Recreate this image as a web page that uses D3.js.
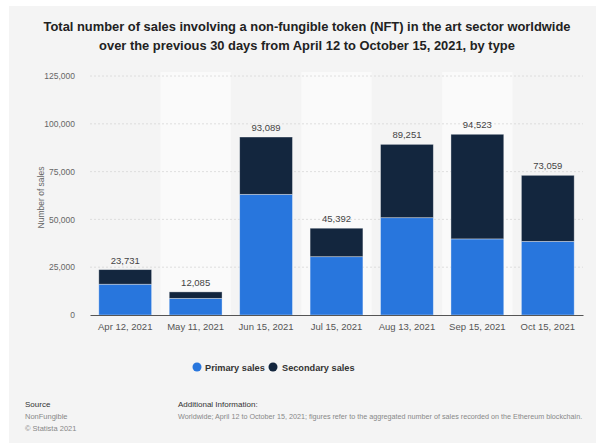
<!DOCTYPE html>
<html>
<head>
<meta charset="utf-8">
<script src="https://cdn.jsdelivr.net/npm/d3@7"></script>
<style>
  html, body { margin: 0; padding: 0; background: #ffffff; }
  svg { display: block; font-family: "Liberation Sans", Arial, sans-serif; }
</style>
</head>
<body>
<svg id="chart" width="596" height="446"></svg>
<script>
// NFT art sector sales over trailing 30 days, split by sale type
const categories = ["Apr 12, 2021", "May 11, 2021", "Jun 15, 2021", "Jul 15, 2021", "Aug 13, 2021", "Sep 15, 2021", "Oct 15, 2021"];
const totals = [23731, 12085, 93089, 45392, 89251, 94523, 73059];
const primarySales = [16100, 8700, 63100, 30500, 50900, 39800, 38500];
const secondarySales = totals.map((t, i) => t - primarySales[i]);
const yTicks = [0, 25000, 50000, 75000, 100000, 125000];
const seriesNames = ["Primary sales", "Secondary sales"];
const seriesColors = ["#2876dd", "#13263e"];

const svg = d3.select("#chart");

// card background
svg.append("rect").attr("x", 9).attr("y", 6).attr("width", 587).attr("height", 437).attr("fill", "#f4f4f4");

// title
const title = svg.append("text").attr("text-anchor", "middle")
  .attr("font-weight", "bold").attr("font-size", 12.9).attr("fill", "#222");
title.append("tspan").attr("x", 307).attr("y", 31).text("Total number of sales involving a non-fungible token (NFT) in the art sector worldwide");
title.append("tspan").attr("x", 307).attr("y", 50).text("over the previous 30 days from April 12 to October 15, 2021, by type");

const plot = { left: 90, right: 583, top: 76, bottom: 315 };

const x = d3.scaleBand().domain(categories).range([plot.left, plot.right]).paddingInner(0.25).paddingOuter(0.125);
const xBand = d3.scaleBand().domain(categories).range([plot.left, plot.right]).padding(0);
const y = d3.scaleLinear().domain([0, 125000]).range([plot.bottom, plot.top]);

// alternating column shading
svg.append("g").selectAll("rect").data(categories.filter((d, i) => i % 2 === 1)).join("rect")
  .attr("x", d => xBand(d)).attr("width", xBand.bandwidth())
  .attr("y", plot.top - 4).attr("height", plot.bottom - plot.top + 4)
  .attr("fill", "#fafafa");

// gridlines
svg.append("g").selectAll("line").data(yTicks.filter(t => t > 0)).join("line")
  .attr("x1", plot.left).attr("x2", plot.right)
  .attr("y1", d => y(d)).attr("y2", d => y(d))
  .attr("stroke", "#d8d8d8").attr("stroke-width", 0.8).attr("stroke-dasharray", "2,2");

// y axis
const yAxis = svg.append("g").attr("transform", `translate(${plot.left - 12},0)`)
  .call(d3.axisLeft(y).tickValues(yTicks).tickSize(0).tickFormat(d3.format(",")));
yAxis.select(".domain").remove();
yAxis.selectAll("text").attr("font-size", 8.5).attr("fill", "#666").attr("font-family", "Liberation Sans, Arial, sans-serif");

svg.append("text").attr("transform", `translate(44,${(plot.top + plot.bottom) / 2 + 2}) rotate(-90)`)
  .attr("text-anchor", "middle").attr("font-size", 8.5).attr("fill", "#666").text("Number of sales");

// stacked bars
const stackData = categories.map((c, i) => ({ cat: c, primary: primarySales[i], secondary: secondarySales[i] }));
const stacked = d3.stack().keys(["primary", "secondary"])(stackData);

svg.append("g").selectAll("g").data(stacked).join("g")
  .attr("fill", (d, i) => seriesColors[i])
  .selectAll("rect").data(d => d).join("rect")
  .attr("x", d => x(d.data.cat)).attr("width", x.bandwidth())
  .attr("y", d => y(d[1])).attr("height", d => y(d[0]) - y(d[1]))
  .attr("stroke", "rgba(255,255,255,0.45)").attr("stroke-width", 0.8);

// total labels
svg.append("g").selectAll("text").data(stackData).join("text")
  .attr("x", d => x(d.cat) + x.bandwidth() / 2)
  .attr("y", (d, i) => y(totals[i]) - 6)
  .attr("text-anchor", "middle").attr("font-size", 9.5).attr("fill", "#444")
  .text((d, i) => d3.format(",")(totals[i]));

// x axis
const xAxis = svg.append("g").attr("transform", `translate(0,${plot.bottom})`)
  .call(d3.axisBottom(x).tickSize(0).tickPadding(8));
xAxis.select(".domain").attr("stroke", "#555").attr("stroke-width", 1);
xAxis.selectAll("text").attr("font-size", 9.5).attr("fill", "#555").attr("font-family", "Liberation Sans, Arial, sans-serif");

// legend
const legend = svg.append("g");
const legendItems = [{ cx: 197, tx: 205 }, { cx: 273, tx: 282 }];
seriesNames.forEach((name, i) => {
  legend.append("circle").attr("cx", legendItems[i].cx).attr("cy", 367).attr("r", 4.5).attr("fill", seriesColors[i]);
  legend.append("text").attr("x", legendItems[i].tx).attr("y", 370.5).attr("font-size", 9.2)
    .attr("font-weight", "bold").attr("fill", "#333").text(name);
});

// footer
svg.append("text").attr("x", 25).attr("y", 407).attr("font-size", 8).attr("fill", "#333").text("Source");
svg.append("text").attr("x", 25).attr("y", 419).attr("font-size", 7.5).attr("fill", "#888").text("NonFungible");
svg.append("text").attr("x", 25).attr("y", 431).attr("font-size", 7.5).attr("fill", "#888").text("© Statista 2021");
svg.append("text").attr("x", 178).attr("y", 407).attr("font-size", 8).attr("fill", "#333").text("Additional Information:");
svg.append("text").attr("x", 178).attr("y", 419).attr("font-size", 7.2).attr("fill", "#888")
  .text("Worldwide; April 12 to October 15, 2021; figures refer to the aggregated number of sales recorded on the Ethereum blockchain.");
</script>
</body>
</html>
